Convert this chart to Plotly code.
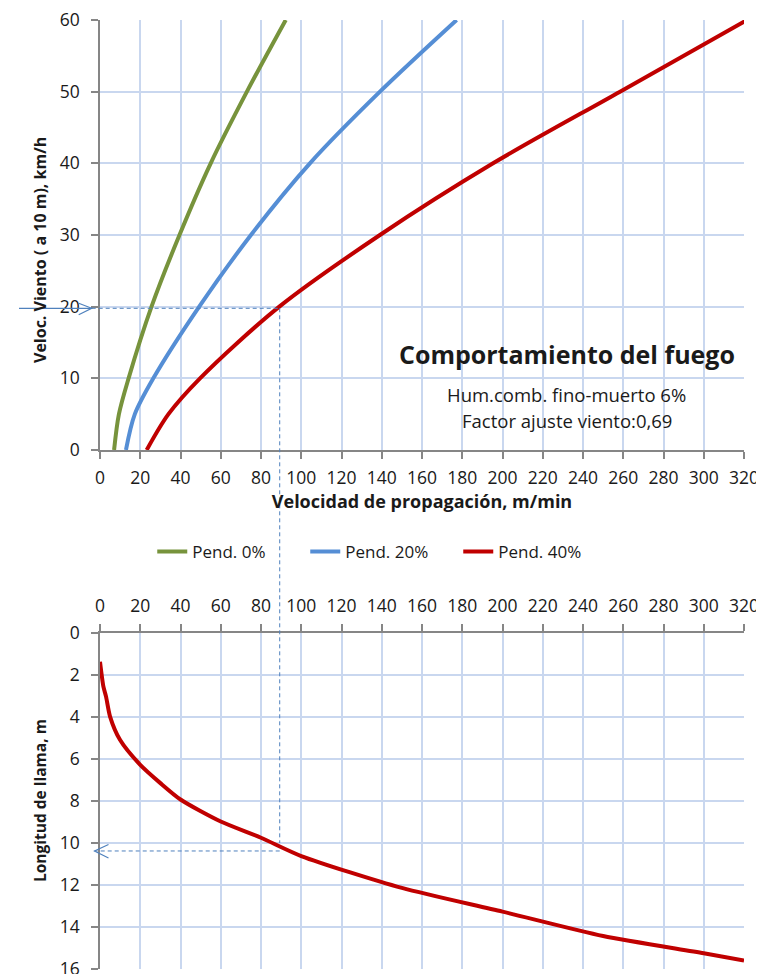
import plotly.graph_objects as go

# ---------------- data ----------------
wind_kmh = [0, 5, 10, 20, 30, 40, 50, 60]
rate_slope0 = [7.0, 9.4, 14.2, 25.6, 39.5, 55.0, 73.0, 92.3]
rate_slope20 = [12.9, 17.3, 26.5, 49.3, 75.0, 104.3, 139.1, 177.2]
rate_slope40 = [23.2, 34.0, 49.7, 89.1, 139.1, 195.3, 258.4, 321.5]
series_names = ["Pend. 0%", "Pend. 20%", "Pend. 40%"]

flame_rate = [0, 1.7, 3, 5, 10, 20, 30, 40, 60, 80, 100, 150, 200, 250, 300, 320]
flame_len = [1.37, 2.56, 3.03, 3.98, 5.1, 6.28, 7.15, 7.93, 8.98, 9.75, 10.62, 12.14, 13.27, 14.43,
             15.25, 15.6]

x_ticks = list(range(0, 321, 20))
wind_ticks = list(range(0, 61, 10))
flame_ticks = list(range(0, 17, 2))

# reading example (guide lines)
wind_read = 19.77
rate_read = 89.3
flame_read = 10.38
flame_vline_end = 10.0

colors = ["#77933C", "#558ED5", "#C00000"]
guide_color = "#4F81BD"
grid_color = "#C9D7EF"
axis_color = "#868686"
FONT = "Open Sans"

XMAX, WMAX, FMAX = 320, 60, 16
TOP_DOM = [0.5469, 1.0]
BOT_DOM = [0.0, 0.3541]


def xp(v):
    return v / XMAX


def ytop(v):
    return TOP_DOM[0] + v / WMAX * (TOP_DOM[1] - TOP_DOM[0])


def ybot(v):
    return BOT_DOM[1] - v / FMAX * (BOT_DOM[1] - BOT_DOM[0])


fig = go.Figure()
for name, vals, c in zip(series_names, [rate_slope0, rate_slope20, rate_slope40], colors):
    fig.add_trace(go.Scatter(x=vals, y=wind_kmh, mode="lines", name=name,
                             line=dict(color=c, width=4, shape="spline", smoothing=0.9),
                             xaxis="x", yaxis="y", hoverinfo="skip"))

fig.add_trace(go.Scatter(x=flame_rate, y=flame_len, mode="lines", showlegend=False,
                         line=dict(color=colors[2], width=4, shape="spline", smoothing=0.7),
                         xaxis="x2", yaxis="y2", hoverinfo="skip"))

tickfont = dict(family=FONT, size=17.5, color="#1a1a1a")
common = dict(showgrid=True, gridcolor=grid_color, gridwidth=1.5, zeroline=False,
              showline=True, linecolor=axis_color, linewidth=1.5, automargin=False,
              ticks="outside", ticklen=7, tickcolor=axis_color, tickwidth=1.5,
              tickfont=tickfont, ticklabeloverflow="allow")

# the page body adds an 8px offset; size the figure so the plot lands where intended
fig.update_layout(
    width=756, height=966,
    margin=dict(l=92, r=20, t=12, b=5),
    paper_bgcolor="white", plot_bgcolor="white",
    font=dict(family=FONT, color="#1a1a1a"),
    xaxis=dict(domain=[0, 1], anchor="y", range=[0, XMAX], tickvals=x_ticks, ticklabelstandoff=4,
               title=dict(text="<b>Velocidad de propagación, m/min</b>",
                          font=dict(family=FONT, size=18), standoff=6), **common),
    yaxis=dict(domain=TOP_DOM, anchor="x", range=[0, WMAX], tickvals=wind_ticks,
               ticklabelstandoff=8, **common),
    xaxis2=dict(domain=[0, 1], anchor="y2", side="top", range=[0, XMAX], tickvals=x_ticks,
                ticklabelstandoff=5, **common),
    yaxis2=dict(domain=BOT_DOM, anchor="x2", range=[FMAX, 0], tickvals=flame_ticks,
                ticklabelstandoff=8, **common),
    legend=dict(orientation="h", x=0.4375, y=ytop(0) - 0.1075, xanchor="center", yanchor="middle",
                font=dict(family=FONT, size=17), bgcolor="rgba(0,0,0,0)",
                entrywidth=108, entrywidthmode="pixels", tracegroupgap=0),
    showlegend=True,
)

annotations = [
    dict(text="<b>Veloc. Viento ( a 10 m), km/h</b>", textangle=-90, xref="paper", yref="paper",
         x=-60 / 644, y=ytop((450 - 250) / 7.1667), xanchor="center", yanchor="middle",
         showarrow=False, font=dict(family=FONT, size=16)),
    dict(text="<b>Longitud de llama, m</b>", textangle=-90, xref="paper", yref="paper",
         x=-60 / 644, y=(BOT_DOM[0] + BOT_DOM[1]) / 2, xanchor="center", yanchor="middle",
         showarrow=False, font=dict(family=FONT, size=15.5)),
    dict(text="<b>Comportamiento del fuego</b>", xref="x", yref="y", x=232, y=13.4,
         showarrow=False, font=dict(family=FONT, size=25), xanchor="center", yanchor="middle"),
    dict(text="Hum.comb. fino-muerto 6%", xref="x", yref="y", x=232, y=7.7,
         showarrow=False, font=dict(family=FONT, size=18.5), xanchor="center", yanchor="middle"),
    dict(text="Factor ajuste viento:0,69", xref="x", yref="y", x=232, y=4.05,
         showarrow=False, font=dict(family=FONT, size=18.5), xanchor="center", yanchor="middle"),
]
fig.update_layout(annotations=annotations)

dash = "4px,3px"
shapes = [
    # solid lead-in arrow on the wind axis
    dict(type="line", xref="paper", yref="y", x0=-81 / 644, x1=-8.3 / 644, y0=wind_read, y1=wind_read,
         line=dict(color=guide_color, width=1.2)),
    dict(type="path", xref="paper", yref="y", xsizemode="pixel", ysizemode="pixel",
         xanchor=-8.3 / 644, yanchor=wind_read, path="M -13,5 L 0,0 L -13,-6.5",
         line=dict(color=guide_color, width=1.2)),
    # dashed horizontal to curve
    dict(type="line", xref="paper", yref="y", x0=-8.3 / 644, x1=xp(rate_read), y0=wind_read, y1=wind_read,
         line=dict(color=guide_color, width=1, dash=dash)),
    # dashed vertical down to flame chart
    dict(type="line", xref="paper", yref="paper", x0=xp(rate_read), x1=xp(rate_read),
         y0=ytop(wind_read), y1=ybot(flame_vline_end),
         line=dict(color=guide_color, width=1, dash=dash)),
    # dashed horizontal to flame axis
    dict(type="line", xref="paper", yref="y2", x0=xp(rate_read), x1=-5.5 / 644, y0=flame_read, y1=flame_read,
         line=dict(color=guide_color, width=1, dash=dash)),
    dict(type="path", xref="paper", yref="y2", xsizemode="pixel", ysizemode="pixel",
         xanchor=-5.5 / 644, yanchor=flame_read, path="M 14,6.5 L 0,0 L 14,-7",
         line=dict(color=guide_color, width=1.2)),
]
fig.update_layout(shapes=shapes)

fig.write_html("out.html")
